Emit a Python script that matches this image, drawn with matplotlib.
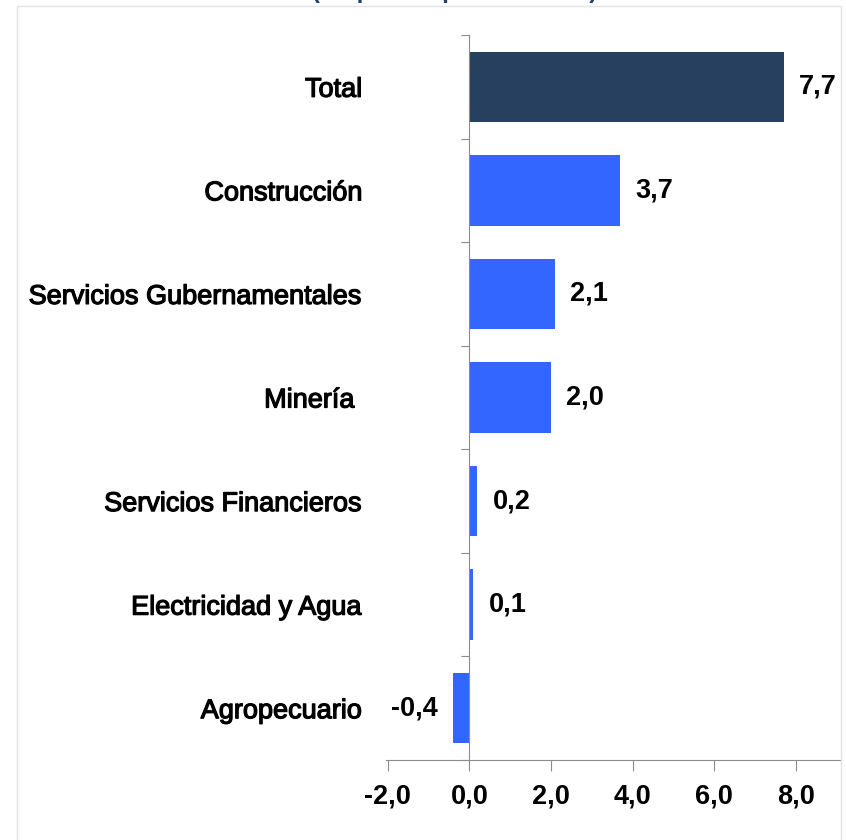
import numpy as np
import matplotlib.pyplot as plt
import matplotlib.patheffects as pe
from matplotlib.patches import Rectangle

sectores = ['Total', 'Construcción', 'Servicios Gubernamentales', 'Minería ',
            'Servicios Financieros', 'Electricidad y Agua', 'Agropecuario']
valores = [7.7, 3.7, 2.1, 2.0, 0.2, 0.1, -0.4]
xticks = [-2, 0, 2, 4, 6, 8]

color_total = '#27405f'
color_barra = '#3366ff'

plt.rcParams['font.family'] = ['Liberation Sans', 'DejaVu Sans']

fig = plt.figure(figsize=(8.46, 8.40), dpi=100)
ax = fig.add_axes([386 / 846, 1 - 760 / 840, (841 - 386) / 846, (760 - 35) / 840])

y = np.arange(len(sectores))
colores = [color_total] + [color_barra] * (len(sectores) - 1)
ax.barh(y, valores, height=0.68, color=colores, zorder=2)

for yi, v in zip(y, valores):
    txt = f'{v:.1f}'.replace('.', ',')
    if v >= 0:
        ax.annotate(txt, (v, yi), xytext=(11, 0), textcoords='offset points',
                    ha='left', va='center', fontsize=19.5, fontweight='bold')
    else:
        ax.annotate(txt, (v, yi), xytext=(-11, 0), textcoords='offset points',
                    ha='right', va='center', fontsize=19.5, fontweight='bold')

ax.set_xlim(-2.04, 9.1)
ax.set_ylim(len(sectores) - 0.5, -0.5)

# eje y en x=0, marcas entre categorias
ax.spines['left'].set_position(('data', 0))
ax.spines['left'].set_color('#8c8c8c')
ax.spines['bottom'].set_color('#8c8c8c')
ax.spines['top'].set_visible(False)
ax.spines['right'].set_visible(False)

ax.set_yticks(np.arange(len(sectores) + 1) - 0.5)
ax.set_yticklabels([])
ax.set_yticks(y, minor=True)
ax.set_yticklabels(sectores, minor=True, fontsize=19.5)
ax.tick_params(axis='y', which='major', direction='out', length=6, color='#8c8c8c')
ax.tick_params(axis='y', which='minor', length=0, pad=77)
for lbl in ax.get_yticklabels(minor=True):
    lbl.set_path_effects([pe.withStroke(linewidth=0.9, foreground='black')])

ax.set_xticks(xticks)
ax.set_xticklabels([f'{t:.1f}'.replace('.', ',') for t in xticks],
                   fontsize=19.5, fontweight='bold')
ax.tick_params(axis='x', direction='out', length=8, color='#8c8c8c', pad=9)

# titulo cortado arriba
fig.text(455 / 846, 1 + 2 / 840, '(En puntos porcentuales)', ha='center', va='baseline',
         fontsize=17, fontweight='bold', color='#1f3f6e')

fig.patches.append(Rectangle((17 / 846, -0.1), (841 - 17) / 846, 1.1 - 6 / 840,
                             transform=fig.transFigure, fill=False,
                             edgecolor='#e3e3e3', linewidth=1))

fig.savefig('out.png', dpi=100)
